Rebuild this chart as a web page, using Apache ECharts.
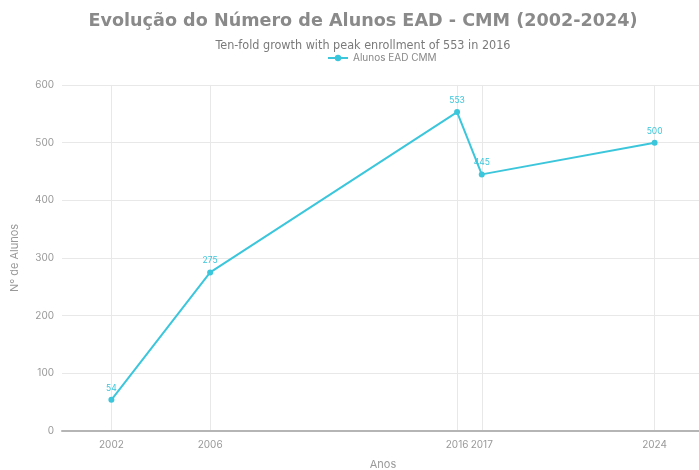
<!DOCTYPE html>
<html>
<head>
<meta charset="utf-8">
<script src="https://cdn.jsdelivr.net/npm/echarts@6/dist/echarts.min.js"></script>
<style>
  html, body { margin: 0; padding: 0; background: #fff; }
  #chart { width: 699px; height: 470px; }
</style>
</head>
<body>
<div id="chart"></div>
<script>
// dados
const anos = [2002, 2006, 2016, 2017, 2024]
const alunos = [54, 275, 553, 445, 500]
const yTicks = [0, 100, 200, 300, 400, 500, 600]

const lineColor = '#3cc6db'
const chart = echarts.init(document.getElementById('chart'))

chart.setOption({
  backgroundColor: '#fff',
  textStyle: { fontFamily: 'Inter, "DejaVu Sans", sans-serif' },
  title: {
    text: 'Evolução do Número de Alunos EAD - CMM (2002-2024)',
    subtext: 'Ten-fold growth with peak enrollment of 553 in 2016',
    left: 358,
    textAlign: 'center',
    top: 7,
    itemGap: 9,
    textStyle: {
      fontFamily: '"DejaVu Sans", sans-serif',
      fontWeight: 'bold',
      fontSize: 17.6,
      color: '#8a8a8a'
    },
    subtextStyle: {
      fontFamily: '"DejaVu Sans Condensed", "DejaVu Sans", sans-serif',
      fontSize: 12.5,
      color: '#7a7a7a'
    }
  },
  legend: {
    data: ['Alunos EAD CMM'],
    left: 322,
    top: 48,
    itemWidth: 20,
    itemHeight: 8,
    itemGap: 4,
    textStyle: { fontSize: 10, color: '#888' }
  },
  grid: { left: 62, top: 85, width: 642, height: 346, outerBoundsMode: 'none', containLabel: false },
  xAxis: {
    type: 'value',
    min: 2000,
    max: 2026,
    name: 'Anos',
    nameLocation: 'middle',
    nameGap: 28,
    nameTextStyle: { color: '#999', fontSize: 11 },
    axisLine: { show: true, lineStyle: { color: '#b5b5b5', width: 2 } },
    axisTick: { show: false, customValues: anos },
    axisLabel: { customValues: anos, color: '#999', fontSize: 10, margin: 9, formatter: v => String(v) },
    splitLine: { show: true, lineStyle: { color: '#e8e8e8' } }
  },
  yAxis: {
    type: 'value',
    min: yTicks[0],
    max: yTicks[yTicks.length - 1],
    interval: 100,
    name: 'Nº de Alunos',
    nameLocation: 'middle',
    nameGap: 42,
    nameTextStyle: { color: '#999', fontSize: 11 },
    axisLine: { show: false },
    axisTick: { show: false },
    axisLabel: { color: '#999', fontSize: 10, margin: 8 },
    splitLine: { lineStyle: { color: '#e8e8e8' } }
  },
  series: [{
    name: 'Alunos EAD CMM',
    type: 'line',
    data: anos.map((a, i) => [a, alunos[i]]),
    symbol: 'circle',
    symbolSize: 6,
    lineStyle: { color: lineColor, width: 2 },
    itemStyle: { color: lineColor },
    label: {
      show: true,
      position: 'top',
      distance: 4,
      fontSize: 8.5,
      color: lineColor,
      formatter: p => p.value[1]
    }
  }]
})
</script>
</body>
</html>
